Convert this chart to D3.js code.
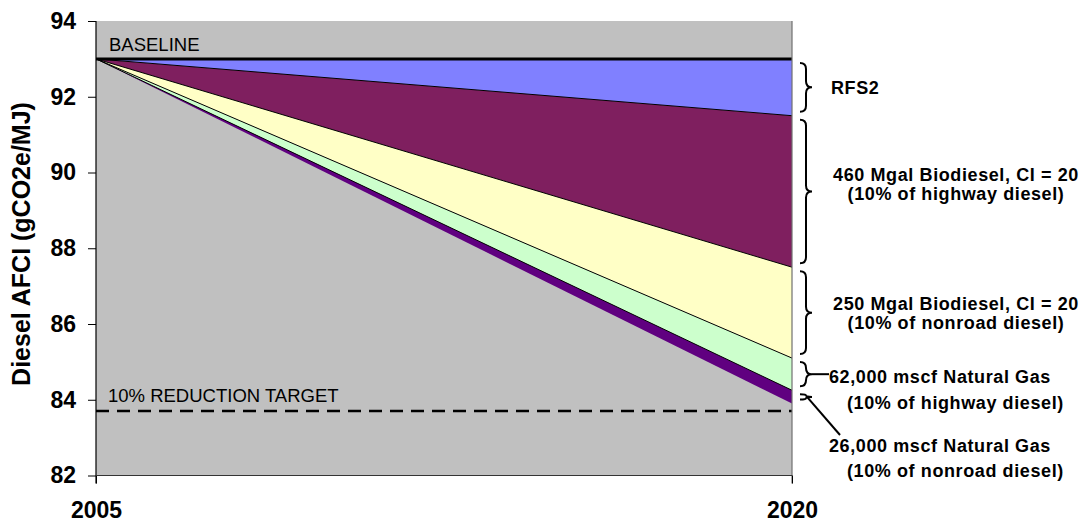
<!DOCTYPE html>
<html>
<head>
<meta charset="utf-8">
<script src="https://cdn.jsdelivr.net/npm/d3@7"></script>
<style>
  html, body { margin: 0; padding: 0; background: #fff; }
  svg { display: block; font-family: "Liberation Sans", Arial, sans-serif; }
</style>
</head>
<body>
<svg id="chart" width="1084" height="523"></svg>
<script>
// Diesel AFCI pathway, 2005 → 2020 (gCO2e/MJ)
const years = [2005, 2020];
const baseline = [93.0, 93.0];
const afterRFS2 = [93.0, 91.5];
const afterBio460 = [93.0, 87.5];
const afterBio250 = [93.0, 85.1];
const afterGas62k = [93.0, 84.25];
const afterGas26k = [93.0, 83.9];
const target = 83.7;
const yTicks = [82, 84, 86, 88, 90, 92, 94];
const xTickLabels = ["2005", "2020"];

// Wedges from the top of the stack down to the remaining AFCI
const wedges = [
  { upper: baseline,    lower: afterRFS2,   color: "#8080ff" },
  { upper: afterRFS2,   lower: afterBio460, color: "#7f1f5f" },
  { upper: afterBio460, lower: afterBio250, color: "#ffffc6" },
  { upper: afterBio250, lower: afterGas62k, color: "#ccffcc" },
  { upper: afterGas62k, lower: afterGas26k, color: "#600080" }
];

const labels = [
  { lines: ["RFS2"], anchor: "start", x: 831, ys: [94] },
  { lines: ["460 Mgal Biodiesel, CI = 20", "(10% of highway diesel)"], anchor: "middle", x: 956, ys: [181, 200] },
  { lines: ["250 Mgal Biodiesel, CI = 20", "(10% of nonroad diesel)"], anchor: "middle", x: 956, ys: [310, 329] },
  { lines: ["62,000 mscf Natural Gas", "(10% of highway diesel)"], anchor: "start", x: [829, 847], ys: [383, 409] },
  { lines: ["26,000 mscf Natural Gas", "(10% of nonroad diesel)"], anchor: "start", x: [829, 847], ys: [452, 477] }
];

const svg = d3.select("#chart");
const plotL = 96, plotR = 792, plotT = 21, plotB = 475.5;

const x = d3.scaleLinear().domain([2005, 2020]).range([plotL, plotR]);
const y = d3.scaleLinear().domain([82, 94]).range([plotB, plotT]);

// plot background
svg.append("rect")
  .attr("x", plotL).attr("y", plotT)
  .attr("width", plotR - plotL).attr("height", plotB - plotT)
  .attr("fill", "#c0c0c0");

const idx = d3.range(years.length);

wedges.forEach(w => {
  const area = d3.area()
    .x(i => x(years[i]))
    .y0(i => y(w.lower[i]))
    .y1(i => y(w.upper[i]));
  svg.append("path").datum(idx).attr("d", area).attr("fill", w.color);
});

// boundary lines between wedges
const line = arr => d3.line().x(i => x(years[i])).y(i => y(arr[i]))(idx);
[afterRFS2, afterBio460, afterBio250, afterGas62k].forEach(arr => {
  svg.append("path").attr("d", line(arr))
    .attr("fill", "none").attr("stroke", "#000").attr("stroke-width", 1);
});

// baseline
svg.append("path").attr("d", line(baseline))
  .attr("fill", "none").attr("stroke", "#000").attr("stroke-width", 3);

// 10% reduction target
svg.append("line")
  .attr("x1", plotL).attr("x2", plotR)
  .attr("y1", y(target)).attr("y2", y(target))
  .attr("stroke", "#000").attr("stroke-width", 2.5)
  .attr("stroke-dasharray", "13,8");

svg.append("text").attr("x", 109).attr("y", 51)
  .attr("font-size", 18.5).text("BASELINE");
svg.append("text").attr("x", 108).attr("y", 402)
  .attr("font-size", 18.5).text("10% REDUCTION TARGET");

// right edge of the plot
svg.append("line").attr("x1", plotR).attr("x2", plotR)
  .attr("y1", plotT).attr("y2", plotB + 8)
  .attr("stroke", "#707070").attr("stroke-width", 1.2);

// axes
const yAxis = d3.axisLeft(y).tickValues(yTicks).tickSize(8).tickPadding(12).tickFormat(d3.format("d"));
const gy = svg.append("g").attr("transform", `translate(${plotL},0)`).call(yAxis);
gy.select(".domain").remove();
gy.selectAll(".tick line").attr("stroke", "#000");
gy.selectAll("text").attr("font-size", 23).attr("font-weight", "bold")
  .attr("font-family", "Liberation Sans, Arial, sans-serif").attr("fill", "#000");
svg.append("line").attr("x1", plotL).attr("x2", plotL)
  .attr("y1", plotT).attr("y2", plotB + 8)
  .attr("stroke", "#000").attr("stroke-width", 1.2);

const xAxis = d3.axisBottom(x).tickValues(years).tickSize(8).tickPadding(18)
  .tickFormat((d, i) => xTickLabels[i]);
const gx = svg.append("g").attr("transform", `translate(0,${plotB})`).call(xAxis);
gx.select(".domain").remove();
gx.selectAll(".tick line").attr("stroke", "#000");
gx.selectAll("text").attr("font-size", 23).attr("font-weight", "bold")
  .attr("font-family", "Liberation Sans, Arial, sans-serif").attr("fill", "#000");
svg.append("line").attr("x1", plotL).attr("x2", plotR)
  .attr("y1", plotB).attr("y2", plotB)
  .attr("stroke", "#333").attr("stroke-width", 1.2);

// y title
svg.append("text")
  .attr("transform", "translate(30,244) rotate(-90)")
  .attr("text-anchor", "middle")
  .attr("font-size", 25).attr("font-weight", "bold")
  .text("Diesel AFCI (gCO2e/MJ)");

// curly braces spanning each wedge at 2020
function brace(x0, y0, y1, w) {
  const m = (y0 + y1) / 2, h = y1 - y0;
  const q = Math.min(6, h / 4);
  const xm = x0 + w / 2;
  return `M${x0},${y0} Q${xm},${y0} ${xm},${y0 + q} L${xm},${m - q} Q${xm},${m} ${x0 + w},${m}` +
         ` Q${xm},${m} ${xm},${m + q} L${xm},${y1 - q} Q${xm},${y1} ${x0},${y1}`;
}
const last = years.length - 1;
const braceMids = [];
wedges.forEach((w, i) => {
  const yt = y(w.upper[last]) + 4, yb = y(w.lower[last]) - 4;
  svg.append("path").attr("d", brace(800, yt, yb, 12))
    .attr("fill", "none").attr("stroke", "#000").attr("stroke-width", 2);
  braceMids.push((yt + yb) / 2);
});

// leader lines for the two natural-gas entries
svg.append("line").attr("x1", 812).attr("x2", 829)
  .attr("y1", braceMids[3]).attr("y2", braceMids[3])
  .attr("stroke", "#000").attr("stroke-width", 2);
svg.append("line").attr("x1", 807).attr("x2", 840)
  .attr("y1", braceMids[4]).attr("y2", 435)
  .attr("stroke", "#000").attr("stroke-width", 2);

labels.forEach(l => {
  l.lines.forEach((t, j) => {
    svg.append("text")
      .attr("x", Array.isArray(l.x) ? l.x[j] : l.x)
      .attr("y", l.ys[j])
      .attr("text-anchor", l.anchor)
      .attr("font-size", 18).attr("font-weight", "bold")
      .attr("letter-spacing", 0.6)
      .text(t);
  });
});
</script>
</body>
</html>
